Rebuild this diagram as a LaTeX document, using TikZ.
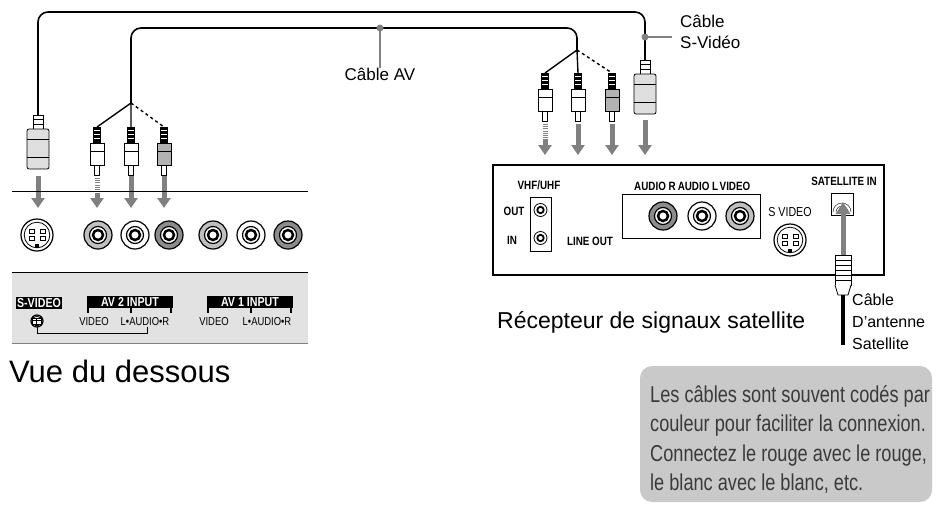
\documentclass[tikz,border=0pt]{standalone}
\usepackage{fontspec}
\setmainfont{Liberation Sans}
\usetikzlibrary{arrows.meta}
\definecolor{agray}{HTML}{808080}
\definecolor{panel}{HTML}{E2E2E2}
\definecolor{note}{HTML}{C9C9C9}
\definecolor{notetxt}{HTML}{3A3A3A}
\newcommand\cn[1]{\scalebox{0.82}[1]{#1}}
\newcommand\nl[1]{\scalebox{0.79}[1]{#1}}
\newcommand\rcaplug[3]{% x, ytop, fill
 \fill[black] (#1-4,#2) rectangle (#1+4,#2+16);
 \foreach \k in {3,7,11}{\draw[white,line width=0.8pt] (#1-3,#2+\k)--(#1+3,#2+\k);}
 \draw[thick,fill=#3] (#1-7,#2+16) rectangle (#1+7,#2+38);
 \draw[thick] (#1-7,#2+24)--(#1+7,#2+24);
 \draw[thick,fill=white] (#1-2.5,#2+38) rectangle (#1+2.5,#2+48);}
\newcommand\svplug[2]{% x, ytop
 \draw[thick,fill=white] (#1-5,#2) rectangle (#1+5,#2+14);
 \foreach \k in {4,9}{\draw (#1-5,#2+\k)--(#1+5,#2+\k);}
 \draw[thick,fill=gray!25,rounded corners=2pt] (#1-11,#2+14) rectangle (#1+11,#2+54);
 \draw[thick] (#1-11,#2+24)--(#1+11,#2+24) (#1-11,#2+42)--(#1+11,#2+42);}
\newcommand\rcajack[3]{% x,y,fill
 \draw[line width=1.2pt,fill=#3] (#1,#2) circle (14);
 \draw[line width=1.2pt,fill=white] (#1,#2) circle (8.5);
 \draw[line width=2.5pt] (#1,#2) circle (5);}
\newcommand\svjack[3]{% x,y,r
 \draw[line width=1.2pt,fill=white] (#1,#2) circle (#3);
 \draw[thick] (#1,#2) circle (#3*0.8);
 \foreach \dx/\dy in {-0.35/-0.25,0.35/-0.25,-0.35/0.2,0.35/0.2}{\draw[fill=white] (#1+\dx*#3-2.5,#2+\dy*#3-1.8) rectangle (#1+\dx*#3+2.5,#2+\dy*#3+1.8);}
 \fill[black] (#1-2,#2+0.55*#3) rectangle (#1+2,#2+0.8*#3);}
\tikzset{cab/.style={line width=1.6pt,rounded corners=10pt},
 arr/.style={agray,line width=5pt,-{Triangle[width=13pt,length=10pt]}},
 lab/.style={font=\fontsize{17}{21}\selectfont,align=left,anchor=west,inner sep=0},
 tiny/.style={font=\fontsize{12}{13}\selectfont\bfseries,inner sep=0},
 small/.style={font=\fontsize{11.5}{12}\selectfont,inner sep=0},
 blk/.style={fill=black,text=white,font=\fontsize{13}{14}\selectfont\bfseries,inner sep=1.2pt}}
\begin{document}
\begin{tikzpicture}[x=1pt,y=-1pt]
\useasboundingbox (0,0) rectangle (943,504);
% cables
\draw[cab] (38,115) |- (645,12) -- (645,60);
\draw[cab] (131,103) |- (577,28) -- (577,50);
\draw[line width=1.4pt] (131,103)--(97,127) (131,103)--(131,127);
\draw[line width=1.4pt,dashed] (131,103)--(164,127);
\draw[line width=1.4pt] (577,50)--(545,73) (577,50)--(578,73);
\draw[line width=1.4pt,dashed] (577,50)--(612,73);
% labels
\coordinate (avp) at (380,28);
\node[lab,anchor=north] (avl) at (380,68) {Câble AV};
\draw[agray,line width=1.5pt] (avp)--(avl.north);
\fill[agray] (avp) circle (3.5);
\coordinate (svp) at (645,37);
\node[lab,anchor=west] (svl) at (680,32) {Câble\\S-Vidéo};
\draw[agray,line width=1.5pt] (svp)--(672,37);
\fill[agray] (svp) circle (3.5);
% left plugs
\svplug{38}{115}
\rcaplug{97}{127}{white}
\rcaplug{131}{127}{white}
\rcaplug{164}{127}{gray!60}
\draw[arr] (38,176)--(38,208);
\draw[agray,line width=5pt,dash pattern=on 1pt off 1.2pt] (97,178)--(97,196);
\draw[arr] (97,194)--(97,208);
\draw[arr] (131,176)--(131,208);
\draw[arr] (164,176)--(164,208);
% left panel
\draw[thick] (12,191)--(308,191);
\svjack{37}{235}{16}
\rcajack{98}{235}{gray!50}\rcajack{135}{235}{white}\rcajack{169}{235}{gray!90}
\rcajack{213}{235}{gray!50}\rcajack{251}{235}{white}\rcajack{288}{235}{gray!90}
\fill[panel] (12,272) rectangle (308,343);
\draw[thick] (12,272)--(308,272);
\draw[thick,gray] (12,343)--(308,343);
\node[blk] (sv) at (39,303) {\cn{S-VIDEO}};
\node[blk,minimum width=86pt,minimum height=12pt] (av2) at (130,302) {\cn{AV 2 INPUT}};
\node[blk,minimum width=86pt,minimum height=12pt] (av1) at (250,302) {\cn{AV 1 INPUT}};
\foreach \a in {88,131,171,208,251,291}{\draw[line width=2pt] (\a,306)--(\a,313);}
\node[small] at (94,322) {\cn{VIDEO}};
\node[small] at (145,322) {\cn{L•AUDIO•R}};
\node[small] at (214,322) {\cn{VIDEO}};
\node[small] at (267,322) {\cn{L•AUDIO•R}};
\svjack{37}{321}{6}
\draw (37,327)|-(147,333)--(147,327);
\node[anchor=base west,font=\fontsize{31}{33}\selectfont,inner sep=0] at (9,382) {Vue du dessous};
% right plugs
\rcaplug{545}{73}{white}
\rcaplug{578}{73}{white}
\rcaplug{612}{73}{gray!60}
\svplug{645}{60}
\draw[agray,line width=5pt,dash pattern=on 1pt off 1.2pt] (545,124)--(545,142);
\draw[arr] (545,140)--(545,155);
\draw[arr] (578,124)--(578,155);
\draw[arr] (612,124)--(612,155);
\draw[arr] (645,120)--(645,155);
% receiver
\draw[line width=1.3pt] (493,165) rectangle (884,275);
\node[tiny] at (539,185) {\cn{VHF/UHF}};
\draw[thick] (530,197) rectangle (551,251);
\foreach \yy in {210,238}{\draw[thick] (540.5,\yy) circle (6.5);\draw[line width=1.8pt] (540.5,\yy) circle (3.2);}
\node[tiny] at (514,211) {\cn{OUT}};
\node[tiny] at (512,240) {\cn{IN}};
\node[tiny] at (590,241) {\cn{LINE OUT}};
\draw[thick] (622,194) rectangle (760,238);
\node[tiny] at (655,186) {\cn{AUDIO R}};
\node[tiny] at (698,186) {\cn{AUDIO L}};
\node[tiny] at (735,186) {\cn{VIDEO}};
\rcajack{663}{216}{gray!90}\rcajack{702}{216}{white}\rcajack{740}{216}{gray!50}
\node[small,font=\fontsize{13}{14}\selectfont] at (790,212) {\cn{S VIDEO}};
\svjack{790}{240}{16}
\node[tiny] at (844,181) {\cn{SATELLITE IN}};
\draw[thick] (831,193) rectangle (853,215);
\foreach \r in {3,6,9}{\draw (842-\r,212) arc (180:360:\r);}
\draw[arr,-{Triangle[width=14pt,length=12pt]}] (843,258)--(843,202);
\draw[thick,fill=white] (835,255) rectangle (851,285);
\foreach \yy in {260,265,270,275,280}{\draw (835,\yy)--(851,\yy);}
\draw[thick,fill=white] (835,285)--(838,295)--(848,295)--(851,285);
\draw[line width=3.5pt] (843,295)--(843,345);
\node[lab,font=\fontsize{16}{22}\selectfont,anchor=north west] at (852,294) {Câble\\D’antenne\\Satellite};
\node[anchor=base west,font=\fontsize{23}{26}\selectfont,inner sep=0] at (497,328) {Récepteur de signaux satellite};
% note
\fill[note,rounded corners=12pt] (640,366) rectangle (932,502);
\node[anchor=north west,align=left,text=notetxt,font=\fontsize{23}{29.5}\selectfont,inner sep=0] (nt) at (650,385) {\nl{Les câbles sont souvent codés par}\\\nl{couleur pour faciliter la connexion.}\\\nl{Connectez le rouge avec le rouge,}\\\nl{le blanc avec le blanc, etc.}};
\end{tikzpicture}
\end{document}
